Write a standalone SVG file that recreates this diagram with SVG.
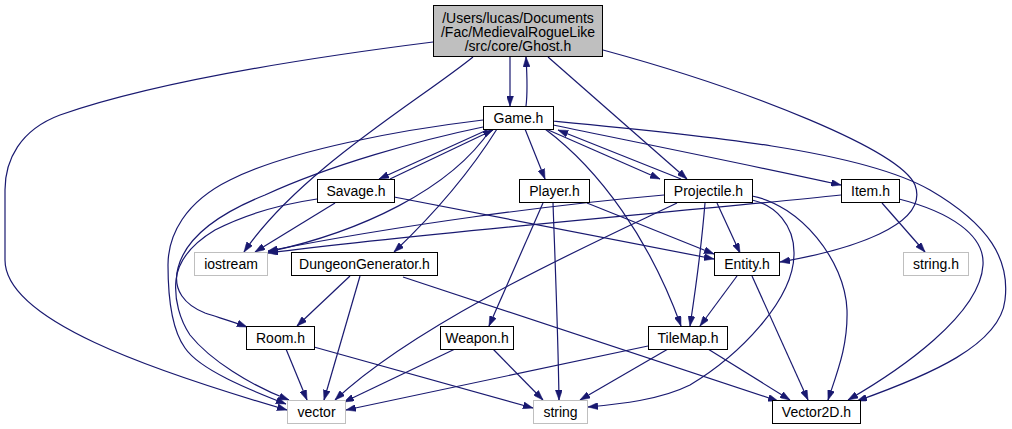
<svg xmlns="http://www.w3.org/2000/svg" width="1012" height="429" viewBox="0 0 1012 429">
<style>
.n rect{fill:#fff;stroke:#000;stroke-width:1}
.n.ext rect{stroke:#bfbfbf}
.n.main rect{fill:#bfbfbf}
.n text{font-family:"Liberation Sans",Arial,sans-serif;font-size:14px;fill:#000;text-anchor:middle}
.e path{fill:none;stroke:#191970;stroke-width:1.2;marker-end:url(#a)}
</style>
<defs>
<marker id="a" viewBox="0 0 10 7" refX="10" refY="3.5" markerWidth="10" markerHeight="7" orient="auto" markerUnits="userSpaceOnUse">
<path d="M0,0 L10,3.5 L0,7 z" fill="#191970" stroke="#191970" stroke-width="0.5"/>
</marker>
</defs>
<rect width="1012" height="429" fill="#fff"/>
<g class="e" id="edges">
<!-- Ghost -->
<path d="M510,57 C510,72 510,88 510,106"/>
<path d="M526,106 C528,90 527,74 526,57"/>
<path d="M473,57 C420,100 300,170 244,252"/>
<path d="M548,57 L687,179"/>
<path d="M603,50 C750,90 900,150 915,185 C930,225 850,250 780,262"/>
<path d="M433,42 C330,55 160,80 60,115 C20,130 5,160 5,190 L5,260 C5,320 150,370 287,410"/>
<!-- Game -->
<path d="M487,130 L379,179"/>
<path d="M390,179 L493,130"/>
<path d="M491,129 C450,190 360,232 268,252"/>
<path d="M497,129 C470,172 432,216 394,252"/>
<path d="M525,129 L545,179"/>
<path d="M546,129 L660,179"/>
<path d="M681,179 L558,130"/>
<path d="M545,129 C600,170 650,240 681,326"/>
<path d="M553,125 C650,145 750,165 841,185"/>
<path d="M553,121 C700,135 860,150 930,190 C990,225 1010,260 1005,300 C1000,345 930,375 857,401"/>
<path d="M483,120 C400,130 290,150 230,180 C185,202 168,235 168,265 C168,300 172,330 185,348 C200,370 250,390 286,404"/>
<path d="M483,127 C420,140 330,165 265,195 C215,215 185,240 178,268 C172,290 185,305 205,313 C220,318 234,322 247,327"/>
<path d="M317,199 C290,203 250,212 215,230 C190,245 178,262 176,280 C174,300 180,320 190,335 C210,360 250,385 289,400"/>
<!-- Savage -->
<path d="M335,203 L255,252"/>
<path d="M394,197 L714,259"/>
<!-- Player -->
<path d="M587,203 L714,254"/>
<path d="M543,203 L489,326"/>
<path d="M553,203 C555,260 558,330 559,400"/>
<!-- Projectile -->
<path d="M664,195 C550,205 400,225 268,251"/>
<path d="M677,203 C600,240 420,320 335,400"/>
<path d="M717,203 L740,253"/>
<path d="M705,203 C702,240 697,280 690,326"/>
<path d="M752,200 C775,205 795,225 794,255 C793,300 740,355 690,385 C660,400 620,404 588,407"/>
<path d="M752,196 C800,205 845,260 847,310 C848,345 838,370 828,400"/>
<!-- Item -->
<path d="M841,195 C700,210 450,230 268,253"/>
<path d="M882,203 L925,252"/>
<path d="M899,199 C950,212 985,235 983,265 C980,315 900,370 848,400"/>
<!-- DungeonGenerator -->
<path d="M350,276 L297,326"/>
<path d="M360,276 L324,400"/>
<path d="M403,277 L778,401"/>
<!-- Entity -->
<path d="M737,276 L700,326"/>
<path d="M752,276 L808,400"/>
<!-- Room -->
<path d="M286,349 L307,400"/>
<path d="M314,347 L533,408"/>
<!-- Weapon -->
<path d="M455,349 L344,402"/>
<path d="M493,349 L543,400"/>
<!-- TileMap -->
<path d="M648,346 L346,410"/>
<path d="M668,349 L580,400"/>
<path d="M708,349 L790,400"/>
</g>
<g class="n main" id="ghost"><rect x="433.5" y="5.5" width="169" height="51"/><text x="518" y="23">/Users/lucas/Documents</text><text x="518" y="37">/Fac/MedievalRogueLike</text><text x="518" y="51">/src/core/Ghost.h</text></g>
<g class="n" id="game"><rect x="483.5" y="106.5" width="70" height="23"/><text x="518.5" y="122.5">Game.h</text></g>
<g class="n" id="savage"><rect x="317.5" y="179.5" width="77" height="23"/><text x="356" y="195.5">Savage.h</text></g>
<g class="n" id="player"><rect x="519.5" y="179.5" width="70" height="23"/><text x="554.5" y="195.5">Player.h</text></g>
<g class="n" id="projectile"><rect x="664.5" y="179.5" width="88" height="23"/><text x="708.5" y="195.5">Projectile.h</text></g>
<g class="n" id="item"><rect x="841.5" y="179.5" width="58" height="23"/><text x="870.5" y="195.5">Item.h</text></g>
<g class="n ext" id="iostream"><rect x="194.5" y="252.5" width="73" height="23"/><text x="231" y="268.5">iostream</text></g>
<g class="n" id="dungeongenerator"><rect x="291.5" y="252.5" width="146" height="23"/><text x="364.5" y="268.5">DungeonGenerator.h</text></g>
<g class="n" id="entity"><rect x="714.5" y="252.5" width="65" height="23"/><text x="747" y="268.5">Entity.h</text></g>
<g class="n ext" id="string_h"><rect x="903.5" y="252.5" width="65" height="23"/><text x="936" y="268.5">string.h</text></g>
<g class="n" id="room"><rect x="246.5" y="326.5" width="68" height="23"/><text x="280.5" y="342.5">Room.h</text></g>
<g class="n" id="weapon"><rect x="440.5" y="326.5" width="73" height="23"/><text x="477" y="342.5">Weapon.h</text></g>
<g class="n" id="tilemap"><rect x="648.5" y="326.5" width="79" height="23"/><text x="688" y="342.5">TileMap.h</text></g>
<g class="n ext" id="vector"><rect x="287.5" y="400.5" width="58" height="23"/><text x="316.5" y="416.5">vector</text></g>
<g class="n ext" id="string"><rect x="533.5" y="400.5" width="54" height="23"/><text x="560.5" y="416.5">string</text></g>
<g class="n" id="vector2d"><rect x="772.5" y="400.5" width="88" height="23"/><text x="816.5" y="416.5">Vector2D.h</text></g>
</svg>
